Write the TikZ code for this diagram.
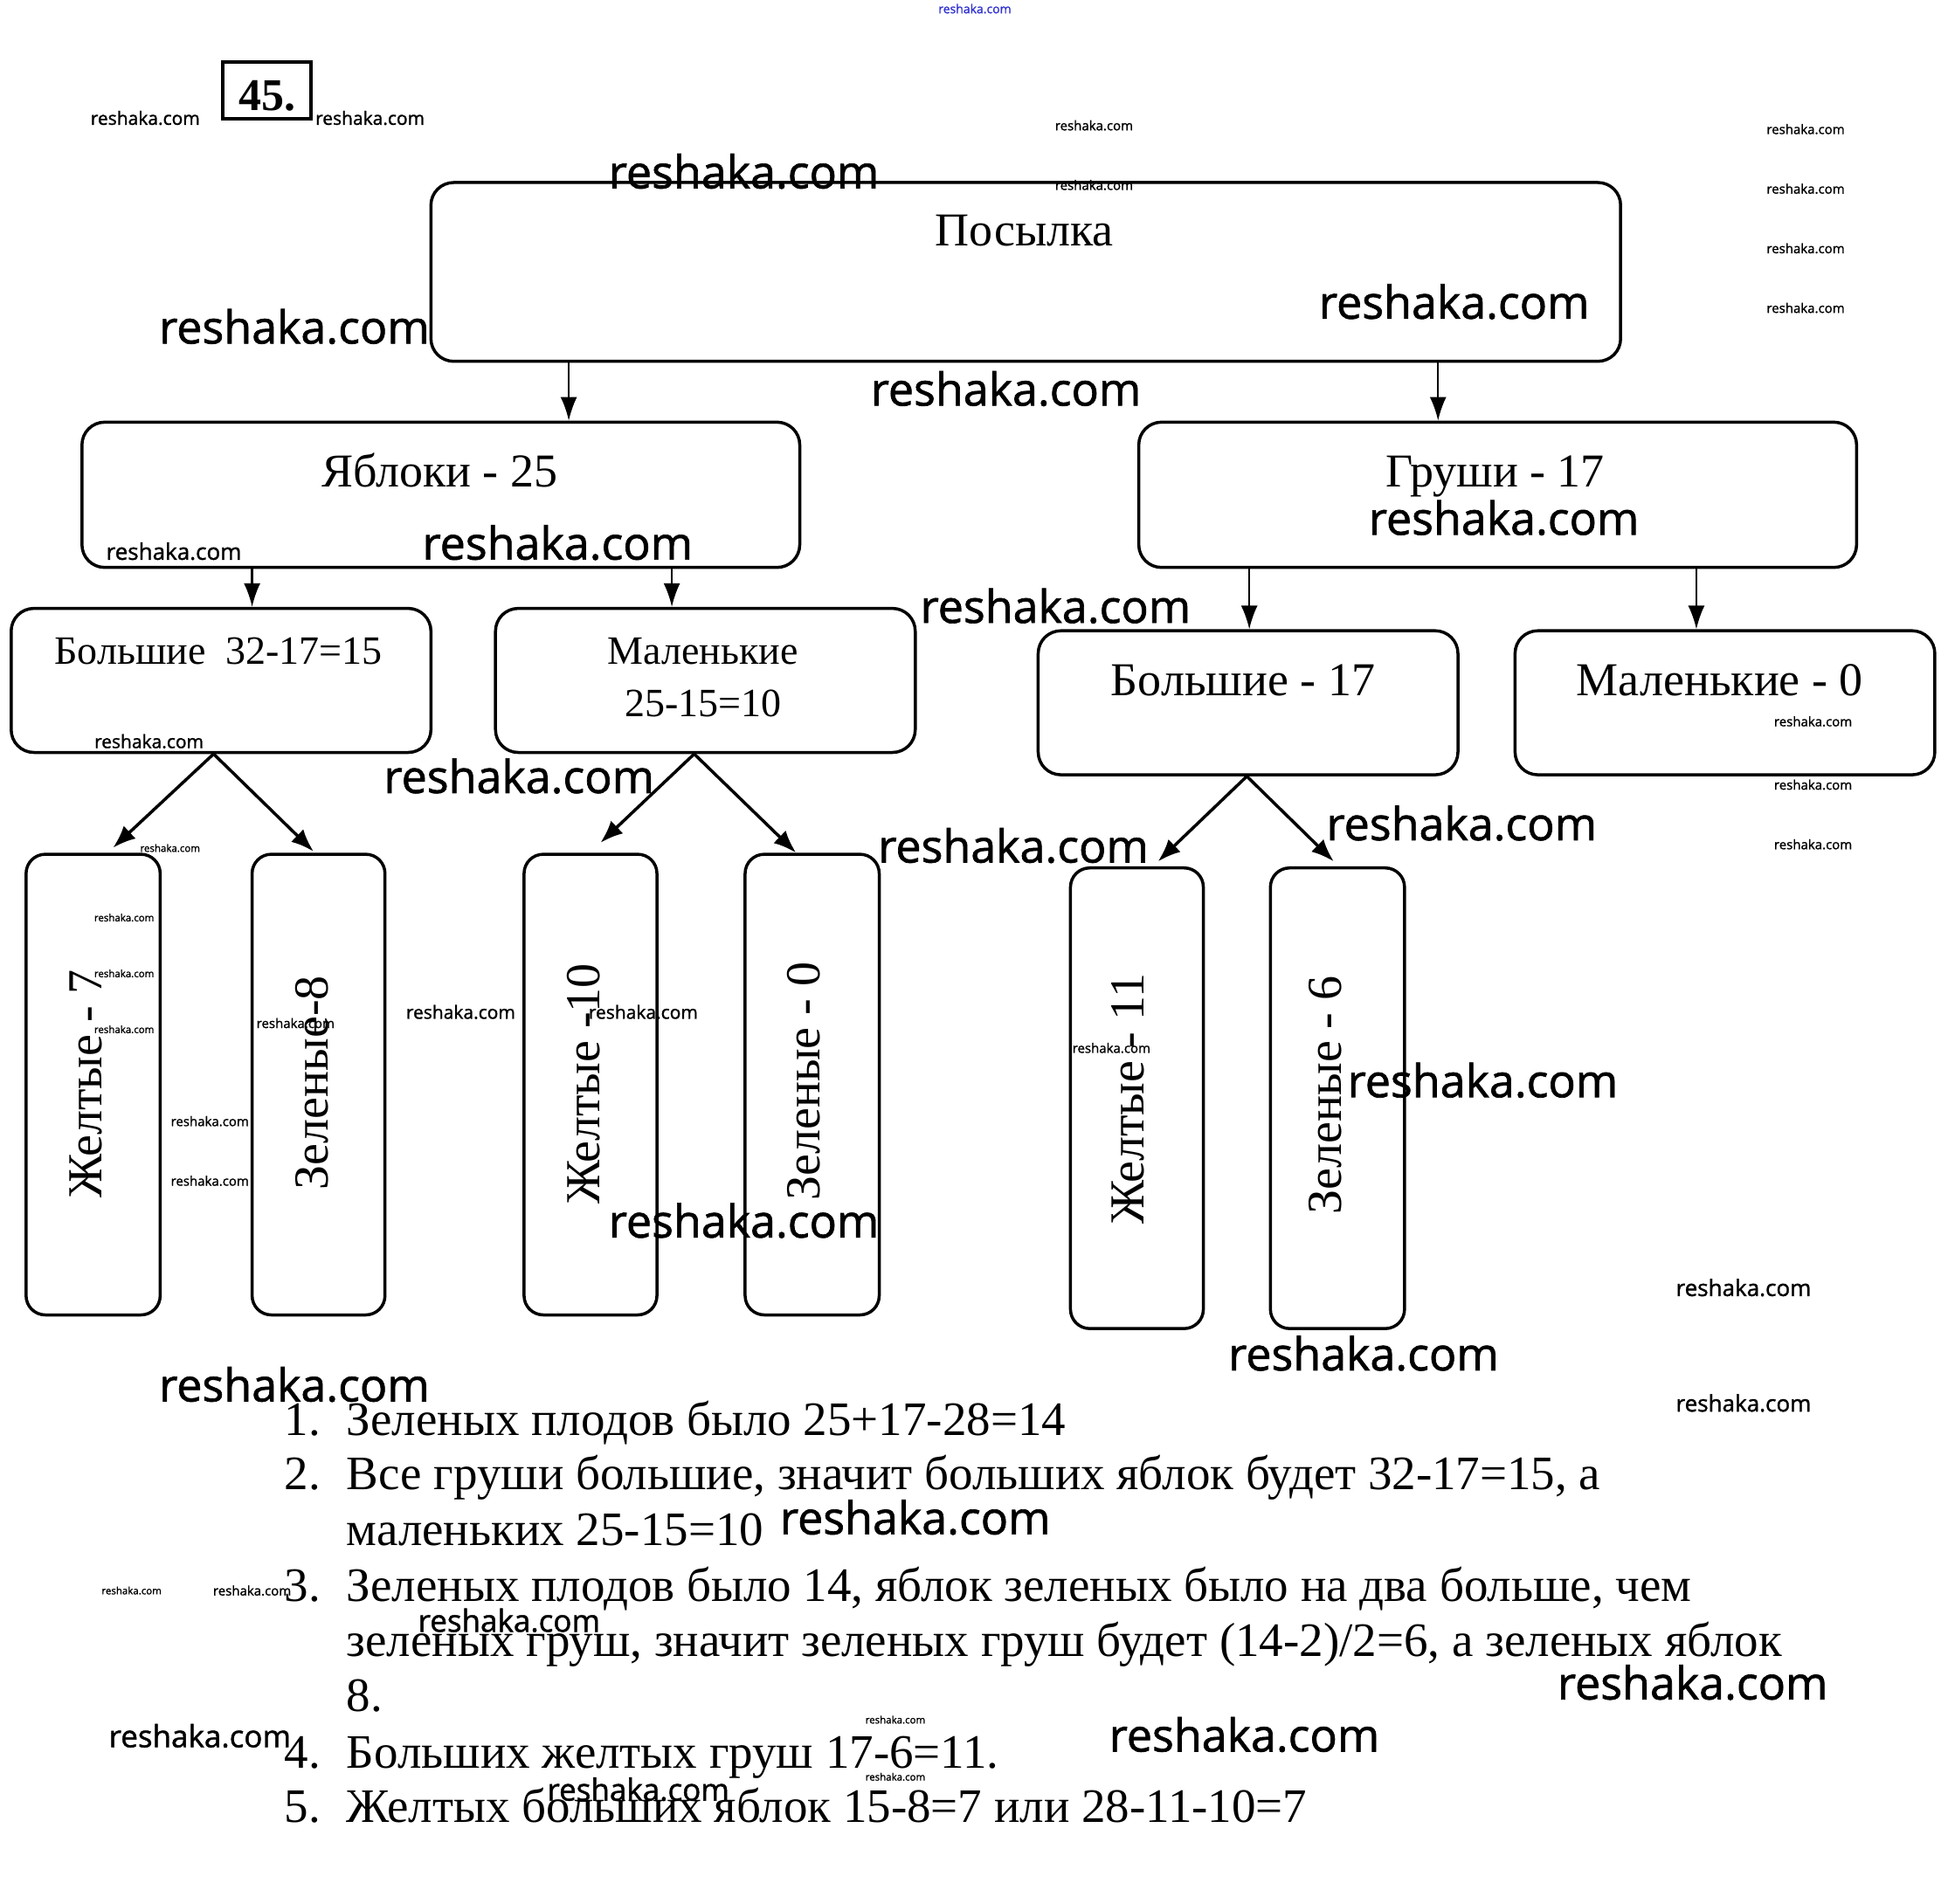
\documentclass[tikz,border=0pt]{standalone}
\usepackage{fontspec}
\setmainfont{Liberation Serif}
\newfontfamily\wmfont{Open Sans}[FakeBold=1.3]
\usetikzlibrary{arrows.meta,calc}
\tikzset{
  bx/.style 2 args={draw, line width=3.5pt, rounded corners=26pt, minimum width={#1*1.4216pt}, minimum height={#2*1.4216pt}, inner sep=0pt, fill=white},
  tallbx/.style 2 args={bx={#1}{#2}, rounded corners=22pt},
  lbl/.style={inner sep=0pt, anchor=base, font=\fontsize{54}{60}\selectfont},
  slbl/.style={inner sep=0pt, anchor=base, align=center, font=\fontsize{46}{60}\selectfont},
  vlbl/.style={inner sep=0pt, anchor=base, rotate=90, font=\fontsize{56}{60}\selectfont},
  ltxt/.style={inner sep=0pt, anchor=base west, font=\fontsize{55}{60}\selectfont},
  varr/.style={line width=2.2pt, -{Latex[length=27pt,width=19pt]}},
  darr/.style={line width=3.5pt, -{Latex[length=26pt,width=20pt]}},
  wm/.style={inner sep=0pt, text=black},
}
\begin{document}
\begin{tikzpicture}[x=1.4216pt, y=-1.4216pt]
\useasboundingbox (0,0) rectangle (1563,1532.8);
\fill[white] (0,0) rectangle (1563,1532.8);

% problem number
\node[draw, line width=4pt, minimum width={71*1.4216pt}, minimum height={46*1.4216pt}, inner sep=0pt] (num) at (215,73) {};
\node[inner sep=0pt, anchor=base, font=\bfseries\fontsize{52}{60}\selectfont] (numt) at (215,89) {45.};

% boxes
\node[bx={958}{144}] (pos) at (826,219) {};
\node[bx={578}{117}] (yab) at (355,398.5) {};
\node[bx={578}{117}] (gru) at (1206,398.5) {};
\node[bx={338}{116}] (bol1) at (178,548) {};
\node[bx={338}{116}] (mal1) at (568,548) {};
\node[bx={338}{116}] (bol2) at (1005,566) {};
\node[bx={338}{116}] (mal2) at (1389,566) {};
\node[tallbx={108}{371}] (zh7) at (75,873.5) {};
\node[tallbx={107}{371}] (ze8) at (256.5,873.5) {};
\node[tallbx={107}{371}] (zh10) at (475.5,873.5) {};
\node[tallbx={108}{371}] (ze0) at (654,873.5) {};
\node[tallbx={107}{371}] (zh11) at (915.5,884.5) {};
\node[tallbx={108}{371}] (ze6) at (1077,884.5) {};

% box texts
\node[lbl] (tpos) at (825,198) {Посылка};
\node[lbl] (tyab) at (354,392) {Яблоки - 25};
\node[lbl] (tgru) at (1204,392) {Груши - 17};
\node[slbl] (tbol1) at (176,535) {Большие~ 32-17=15};
\node[slbl] (tmal1a) at (566,535) {Маленькие};
\node[slbl] (tmal1b) at (566,577) {25-15=10};
\node[lbl] (tbol2) at (1001,560) {Большие - 17};
\node[lbl] (tmal2) at (1385,560) {Маленькие - 0};
\node[vlbl] (tzh7) at (82,873) {Желтые - 7};
\node[vlbl] (tze8) at (264,872) {Зеленые-8};
\node[vlbl] (tzh10) at (483,873) {Желтые -10};
\node[vlbl] (tze0) at (660,871) {Зеленые - 0};
\node[vlbl] (tzh11) at (921,885) {Желтые - 11};
\node[vlbl] (tze6) at (1080,882) {Зеленые - 6};

% connectors
\coordinate (c1) at (458,0);
\coordinate (c2) at (1158,0);
\coordinate (c3) at (203,0);
\coordinate (c4) at (541,0);
\coordinate (c5) at (1006,0);
\coordinate (c6) at (1366,0);
\draw[varr] (pos.south -| c1) -- (yab.north -| c1);
\draw[varr] (pos.south -| c2) -- (gru.north -| c2);
\draw[varr] (yab.south -| c3) -- (bol1.north -| c3);
\draw[varr] (yab.south -| c4) -- (mal1.north -| c4);
\draw[varr] (gru.south -| c5) -- (bol2.north -| c5);
\draw[varr] (gru.south -| c6) -- (mal2.north -| c6);

\draw[darr] ($(bol1.south)+(-6,0)$) -- ($(zh7.north)+(16,-4)$);
\draw[darr] ($(bol1.south)+(-6,0)$) -- ($(ze8.north)+(-4,-1)$);
\draw[darr] ($(mal1.south)+(-9,0)$) -- ($(zh10.north)+(8,-8)$);
\draw[darr] ($(mal1.south)+(-9,0)$) -- ($(ze0.north)+(-13,0)$);
\draw[darr] ($(bol2.south)+(-1,0)$) -- ($(zh11.north)+(17,-4)$);
\draw[darr] ($(bol2.south)+(-1,0)$) -- ($(ze6.north)+(-3,-4)$);

% solution list
\node[ltxt] (n1) at (229,1156) {1.};
\node[ltxt] (l1) at (279,1156) {Зеленых плодов было 25+17-28=14};
\node[ltxt] (n2) at (229,1200) {2.};
\node[ltxt] (l2) at (279,1200) {Все груши большие, значит больших яблок будет 32-17=15, а};
\node[ltxt] (l3) at (279,1245) {маленьких 25-15=10};
\node[ltxt] (n3) at (229,1290) {3.};
\node[ltxt] (l4) at (279,1290) {Зеленых плодов было 14, яблок зеленых было на два больше, чем};
\node[ltxt] (l5) at (279,1334) {зеленых груш, значит зеленых груш будет (14-2)/2=6, а зеленых яблок};
\node[ltxt] (l6) at (279,1378) {8.};
\node[ltxt] (n4) at (229,1424) {4.};
\node[ltxt] (l7) at (279,1424) {Больших желтых груш 17-6=11.};
\node[ltxt] (n5) at (229,1468) {5.};
\node[ltxt] (l8) at (279,1468) {Желтых больших яблок 15-8=7 или 28-11-10=7};

% watermarks
\node[wm, text={rgb,255:red,50;green,50;blue,210}, font=\wmfont\fontsize{14}{14}\selectfont] (w0) at (785,7) {reshaka.com};
\foreach \x/\y/\s [count=\i] in {
 117/95/21, 298/95/21, 881/101/15, 1454/104/15, 599/138/52, 881/149/15,
 1454/152/15, 1454/200/15, 1171/243/52, 1454/248/15, 237/263/52, 810/313/52,
 1211/417/52, 449/437/52, 140/444/26, 850/488/52, 120/597/21, 418/625/52,
 1460/581/15, 1460/632/15, 1460/680/15, 1177/663/52, 816/681/52, 137/683/11.5,
 100/739/11.5, 100/784/11.5, 100/829/11.5, 238/824/15, 371/815/21, 518/815/21,
 169/903/15, 169/951/15, 895/844/15, 1194/870/52, 599/983/52, 1404/1037/26,
 1098/1090/52, 237/1115/52, 1404/1130/26, 737/1222/52, 106/1281/11.5, 203/1281/15,
 410/1305/35, 1363/1355/52, 161/1398/35, 721/1385/11.5, 1002/1397/52, 721/1431/11.5,
 514/1441/35}
 \node[wm, font=\wmfont\fontsize{\s}{\s}\selectfont] (w\i) at (\x,\y) {reshaka.com};
\end{tikzpicture}
\end{document}
